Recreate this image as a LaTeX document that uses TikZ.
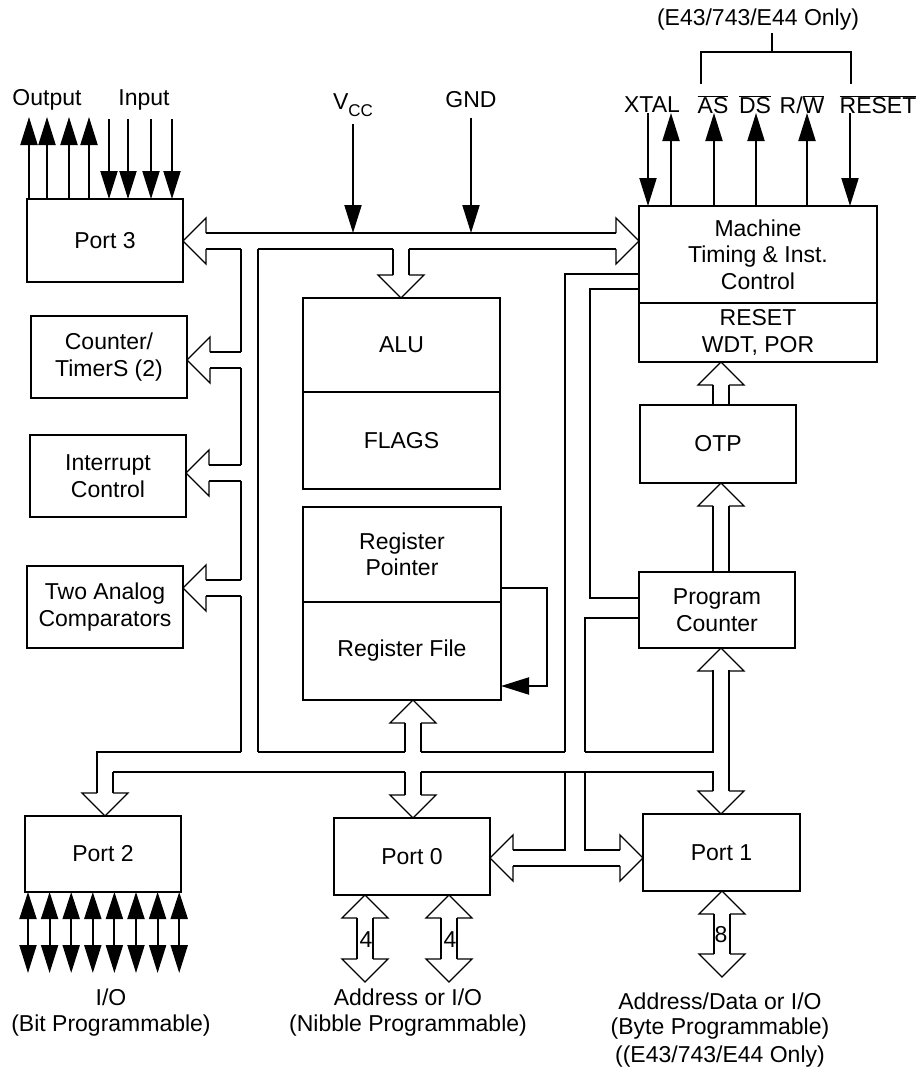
\documentclass[tikz,border=0pt]{standalone}
\usepackage{fontspec}
\setmainfont{Liberation Sans}
\usetikzlibrary{arrows.meta}
\newcommand{\lbl}{\fontsize{23}{26.5}\selectfont}
\newcommand{\ovl}[1]{$\overline{\hbox{#1}}$}
\tikzset{
  blk/.style={draw, inner sep=0pt, outer sep=0pt, anchor=north west, align=center},
  sig/.style={-{Triangle[length=28pt,width=17pt]}},
  hd/.style={line width=1.3pt},
  headL/.pic={\draw[hd] (23,-8) -- (23,-23) -- (0,0) -- (23,23) -- (23,8);},
  headR/.pic={\draw[hd] (-23,-8) -- (-23,-23) -- (0,0) -- (-23,23) -- (-23,8);},
  headU/.pic={\draw[hd] (-8,23) -- (-23,23) -- (0,0) -- (23,23) -- (8,23);},
  headD/.pic={\draw[hd] (-8,-23) -- (-23,-23) -- (0,0) -- (23,-23) -- (8,-23);},
}
\begin{document}
\begin{tikzpicture}[x=1pt, y=-1pt, line width=2pt, font=\lbl]
    \useasboundingbox (0,0) rectangle (917,1070);

    % Bloques
    \node[blk, minimum width=156, minimum height=83] (p3) at (27,199) {Port 3};
    \node[blk, minimum width=156, minimum height=82] (ct) at (31,316) {Counter/\\TimerS (2)};
    \node[blk, minimum width=156, minimum height=82] (ic) at (30,435) {Interrupt\\Control};
    \node[blk, minimum width=156, minimum height=82] (ac) at (27,566) {Two Analog\\Comparators};
    \node[blk, minimum width=156, minimum height=76] (p2) at (25,816) {Port 2};
    \node[blk, minimum width=156, minimum height=77] (p0) at (334,818) {Port 0};
    \node[blk, minimum width=157, minimum height=77] (p1) at (643,814) {Port 1};
    \node[blk, minimum width=197, minimum height=94] (alu) at (303,298) {ALU};
    \node[blk, minimum width=197, minimum height=97] (flg) at (303,392) {FLAGS};
    \node[blk, minimum width=198, minimum height=95] (rp) at (303,507) {Register\\Pointer};
    \node[blk, minimum width=198, minimum height=98] (rf) at (303,602) {Register File};
    \node[blk, minimum width=238, minimum height=97] (mt) at (639,206) {Machine\\Timing \& Inst.\\Control};
    \node[blk, minimum width=238, minimum height=59] (rst) at (639,303) {RESET\\WDT, POR};
    \node[blk, minimum width=156, minimum height=78] (otp) at (640,405) {OTP};
    \node[blk, minimum width=156, minimum height=76] (pc) at (639,572) {Program\\Counter};

    % Port 3
    \node (out) at (47,100) {Output};
    \node (in) at (144,100) {Input};
    \foreach \x in {29,47,69,89} \draw[sig] (\x,0 |- p3.north) -- (\x,117);
    \foreach \x in {109,128,151,172} \draw[sig] (\x,119) -- (\x,0 |- p3.north);

    % Alimentacion
    \node (vcc) at (353,105) {V\raisebox{-7pt}{\fontsize{17}{17}\selectfont CC}};
    \node (gnd) at (471,100) {GND};
    \draw[sig] (353,124) -- (353,233);
    \draw[sig] (471,118) -- (471,233);

    % Control
    \node (only) at (758,20) {(E43/743/E44 Only)};
    \draw (701,84) -- (701,52) -- (851,52) -- (851,84) (772,52) -- (772,33);
    \node (xtal) at (652,105) {XTAL};
    \node (as) at (713,105) {\ovl{AS}};
    \node (ds) at (755,105) {\ovl{DS}};
    \node (rw) at (802,105) {R/\ovl{W}};
    \node (rs) at (878,105) {\ovl{RESET}};
    \foreach \x in {648,850} \draw[sig] (\x,113) -- (\x,0 |- mt.north);
    \foreach \x in {671,714,756,807} \draw[sig] (\x,0 |- mt.north) -- (\x,113);

    % Bus superior
    \pic at (p3.east |- 0,241) {headL};
    \pic at (mt.west |- 0,241) {headR};
    \draw (206,233) -- (616,233);
    \draw (206,249) -- (241,249) (258,249) -- (393,249) (409,249) -- (616,249);
    \draw (393,249) -- (393,275) (409,249) -- (409,275);
    \pic at (alu.north -| 401,0) {headD};

    % Bus izquierdo
    \draw (241,249) -- (241,352) (241,368) -- (241,465) (241,481) -- (241,580) (241,596) -- (241,752);
    \draw (258,249) -- (258,752);
    \draw (210,352) -- (241,352) (210,368) -- (241,368);
    \pic at (ct.east |- 0,360) {headL};
    \draw (209,465) -- (241,465) (209,481) -- (241,481);
    \pic at (ic.east |- 0,473) {headL};
    \draw (206,580) -- (241,580) (206,596) -- (241,596);
    \pic at (ac.east |- 0,588) {headL};

    % Port 2
    \draw (241,752) -- (97,752) -- (97,793);
    \draw (113,793) -- (113,772);
    \pic at (p2.north -| 105,0) {headD};
    \foreach \i in {0,...,7}
      \draw[{Triangle[length=27pt,width=17pt]}-{Triangle[length=28pt,width=17pt]}]
        ({28+21.6*\i},0 |- p2.south) -- ({28+21.6*\i},973);
    \node (io2) at (111,997) {I/O};
    \node (bit) at (111,1026) {(Bit Programmable)};

    % Bus inferior
    \draw (258,752) -- (405,752) (421,752) -- (565,752) (585,752) -- (713,752) -- (713,670);
    \draw (113,772) -- (405,772) (421,772) -- (713,772) -- (713,791);
    \draw (729,670) -- (729,791);
    \pic at (pc.south -| 721,0) {headU};
    \pic at (p1.north -| 721,0) {headD};

    % Port 0
    \pic at (rf.south -| 413,0) {headU};
    \draw (405,723) -- (405,752) (421,723) -- (421,752);
    \draw (405,772) -- (405,795) (421,772) -- (421,795);
    \pic at (p0.north -| 413,0) {headD};
    \foreach \x in {365,449} {
      \pic at (p0.south -| \x,0) {headU};
      \draw (\x-8,918) -- (\x-8,959) (\x+8,918) -- (\x+8,959);
      \pic at (\x,982) {headD};
      \node at (\x+1,940) {4};
    }
    \node (adr) at (408,997) {Address or I/O};
    \node (nib) at (408,1026) {(Nibble Programmable)};

    % Port 0 <-> Port 1
    \pic at (p0.east |- 0,858) {headL};
    \pic at (p1.west |- 0,858) {headR};
    \draw (513,850) -- (565,850) -- (565,772);
    \draw (620,850) -- (585,850) -- (585,772);
    \draw (513,866) -- (620,866);

    % Port 1
    \pic at (p1.south -| 722,0) {headU};
    \draw (714,914) -- (714,954) (730,914) -- (730,954);
    \pic at (722,977) {headD};
    \node at (721,935) {8};
    \node (adt) at (720,1001) {Address/Data or I/O};
    \node (byt) at (720,1029) {(Byte Programmable)};
    \node (onl) at (720,1057) {((E43/743/E44 Only)};

    % Lineas de control
    \draw (mt.west |- 0,274) -- (565,274) -- (565,752);
    \draw (mt.west |- 0,289) -- (590,289) -- (590,598) -- (pc.west |- 0,598);
    \draw (pc.west |- 0,618) -- (585,618) -- (585,752);

    % OTP
    \draw (713,385) -- (otp.north -| 713,0) (729,385) -- (otp.north -| 729,0);
    \pic at (rst.south -| 721,0) {headU};
    \draw (713,506) -- (pc.north -| 713,0) (729,506) -- (pc.north -| 729,0);
    \pic at (otp.south -| 721,0) {headU};

    % Registros
    \draw[sig] (rp.east |- 0,588) -- (547,588) -- (547,686) -- (rf.east |- 0,686);
\end{tikzpicture}
\end{document}
